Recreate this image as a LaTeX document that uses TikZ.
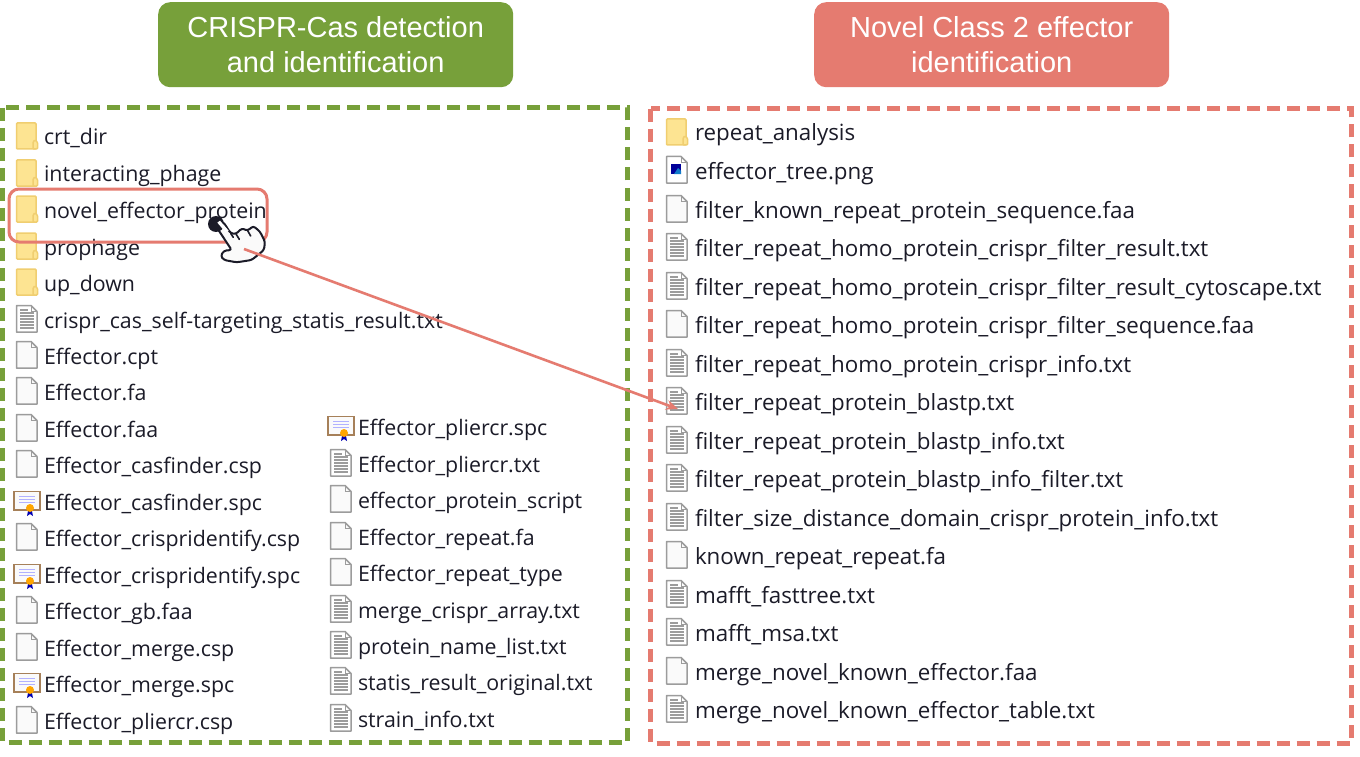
\documentclass[tikz,border=0pt]{standalone}
\usepackage{fontspec}
\setmainfont{Liberation Sans}
\newfontfamily\listfont{Open Sans}
\usetikzlibrary{arrows.meta}
\definecolor{grn}{HTML}{77A03A}
\definecolor{rdd}{HTML}{E57B70}
\definecolor{txt}{HTML}{1B1B28}
\definecolor{fold}{HTML}{FDE492}
\definecolor{foldl}{HTML}{F0CE70}
\definecolor{icg}{HTML}{9C9C9C}
\tikzset{
 title/.style={rounded corners=12pt,fill=#1,minimum width=355pt,minimum height=85pt,inner sep=0pt,anchor=north west,text=white,align=center,font=\fontsize{29}{35}\selectfont},
 panel/.style={draw=#1,line width=5pt,dash pattern=on 13pt off 7pt},
 labelL/.style={anchor=base west,inner sep=0pt,outer sep=0pt,text=txt,font=\listfont\fontsize{21.35}{24}\selectfont},
 labelR/.style={anchor=base west,inner sep=0pt,outer sep=0pt,text=txt,font=\listfont\fontsize{22.35}{24}\selectfont},
 folderic/.pic={
  \draw[foldl,line width=1.5pt,fill=fold,rounded corners=1pt] (-10.5,-14)--(9,-14)--(9,12)--(-10.5,12)--cycle;
  \draw[foldl,line width=1.5pt,fill=fold,rounded corners=1pt] (6,12)--(6,5)--(8,3)--(10.5,5)--(10.5,12)--cycle;
 },
 plainic/.pic={
  \draw[icg,line width=1.5pt,fill=white!95!icg,line join=round] (-10.5,-14.5)--(4,-14.5)--(10,-8.5)--(10,12)--(-10.5,12)--cycle;
  \draw[icg,line width=1pt] (4,-14.5)--(4,-8.5)--(10,-8.5);
 },
 textic/.pic={
  \draw[icg,line width=1.5pt,fill=white,line join=round] (-10.5,-14.5)--(4,-14.5)--(10,-8.5)--(10,12)--(-10.5,12)--cycle;
  \draw[icg,line width=1pt] (4,-14.5)--(4,-8.5)--(10,-8.5);
  \foreach \yy in {-7,-4,-1,2,5,8} \draw[icg,line width=1.2pt] (-7,\yy)--(7,\yy);
  \draw[icg,line width=1.2pt] (-7,-10)--(1,-10);
 },
 imageic/.pic={
  \draw[icg,line width=1.5pt,fill=white,line join=round] (-10.5,-14.5)--(4,-14.5)--(10,-8.5)--(10,12)--(-10.5,12)--cycle;
  \draw[icg,line width=1pt] (4,-14.5)--(4,-8.5)--(10,-8.5);
  \fill[blue!60!black] (-6,-7) rectangle (4,3);
  \fill[cyan!60!blue] (-3,3) -- (1,-3) -- (4,0) -- (4,3) -- cycle;
 },
 certic/.pic={
  \draw[brown!60!gray,line width=1.6pt,fill=white!96!gray] (-13,-10.5)--(13,-10.5)--(13,8)--(-13,8)--cycle;
  \foreach \yy in {-6,-3,0} \draw[blue!30,line width=.9pt] (-8,\yy)--(8,\yy);
  \fill[blue!70!black] (1,9)--(0,14)--(3,12)--(6,14)--(5,9)--cycle;
  \fill[orange!70!yellow] (3,6) circle (4);
 },
}
\newcommand{\fitemL}[6]{% name, icon x, text x, y, icon, text
 \pic at (#2,#4) {#5};
 \node[labelL] (#1) at (#3,#4+8) {#6};
}
\newcommand{\fitemR}[6]{%
 \pic at (#2,#4) {#5};
 \node[labelR] (#1) at (#3,#4+8) {#6};
}
\begin{document}
\begin{tikzpicture}[x=1pt,y=-1pt]
\useasboundingbox (0,0) rectangle (1360,757);
\fill[white] (0,0) rectangle (1360,757);
\node[title=grn] (t1) at (158,2) {CRISPR-Cas detection\\and identification};
\node[title=rdd] (t2) at (814,2) {Novel Class 2 effector\\identification};
\draw[panel=grn] (2.5,108) rectangle (627,742);
\draw[panel=rdd] (650.5,109) rectangle (1351,743);
% left column
\fitemL{l1}{27}{44}{137}{folderic}{crt\_dir}
\fitemL{l2}{27}{44}{174}{folderic}{interacting\_phage}
\fitemL{l3}{27}{44}{210}{folderic}{novel\_effector\_protein}
\fitemL{l4}{27}{44}{247}{folderic}{prophage}
\fitemL{l5}{27}{44}{283}{folderic}{up\_down}
\fitemL{l6}{27}{44}{320}{textic}{crispr\_cas\_self-targeting\_statis\_result.txt}
\fitemL{l7}{27}{44}{356}{plainic}{Effector.cpt}
\fitemL{l8}{27}{44}{392}{plainic}{Effector.fa}
\fitemL{l9}{27}{44}{429}{plainic}{Effector.faa}
\fitemL{l10}{27}{44}{465}{plainic}{Effector\_casfinder.csp}
\fitemL{l11}{27}{44}{502}{certic}{Effector\_casfinder.spc}
\fitemL{l12}{27}{44}{538}{plainic}{Effector\_crispridentify.csp}
\fitemL{l13}{27}{44}{575}{certic}{Effector\_crispridentify.spc}
\fitemL{l14}{27}{44}{611}{plainic}{Effector\_gb.faa}
\fitemL{l15}{27}{44}{648}{plainic}{Effector\_merge.csp}
\fitemL{l16}{27}{44}{684}{certic}{Effector\_merge.spc}
\fitemL{l17}{27}{44}{721}{plainic}{Effector\_pliercr.csp}
% second column
\fitemL{m1}{341}{358}{427}{certic}{Effector\_pliercr.spc}
\fitemL{m2}{341}{358}{464}{textic}{Effector\_pliercr.txt}
\fitemL{m3}{341}{358}{500}{plainic}{effector\_protein\_script}
\fitemL{m4}{341}{358}{537}{plainic}{Effector\_repeat.fa}
\fitemL{m5}{341}{358}{573}{plainic}{Effector\_repeat\_type}
\fitemL{m6}{341}{358}{610}{textic}{merge\_crispr\_array.txt}
\fitemL{m7}{341}{358}{646}{textic}{protein\_name\_list.txt}
\fitemL{m8}{341}{358}{682}{textic}{statis\_result\_original.txt}
\fitemL{m9}{341}{358}{719}{textic}{strain\_info.txt}
% right panel
\fitemR{r1}{677}{695}{133}{folderic}{repeat\_analysis}
\fitemR{r2}{677}{695}{171}{imageic}{effector\_tree.png}
\fitemR{r3}{677}{695}{210}{plainic}{filter\_known\_repeat\_protein\_sequence.faa}
\fitemR{r4}{677}{695}{248}{textic}{filter\_repeat\_homo\_protein\_crispr\_filter\_result.txt}
\fitemR{r5}{677}{695}{287}{textic}{filter\_repeat\_homo\_protein\_crispr\_filter\_result\_cytoscape.txt}
\fitemR{r6}{677}{695}{325}{plainic}{filter\_repeat\_homo\_protein\_crispr\_filter\_sequence.faa}
\fitemR{r7}{677}{695}{364}{textic}{filter\_repeat\_homo\_protein\_crispr\_info.txt}
\fitemR{r8}{677}{695}{402}{textic}{filter\_repeat\_protein\_blastp.txt}
\fitemR{r9}{677}{695}{441}{textic}{filter\_repeat\_protein\_blastp\_info.txt}
\fitemR{r10}{677}{695}{479}{textic}{filter\_repeat\_protein\_blastp\_info\_filter.txt}
\fitemR{r11}{677}{695}{518}{textic}{filter\_size\_distance\_domain\_crispr\_protein\_info.txt}
\fitemR{r12}{677}{695}{556}{plainic}{known\_repeat\_repeat.fa}
\fitemR{r13}{677}{695}{595}{textic}{mafft\_fasttree.txt}
\fitemR{r14}{677}{695}{633}{textic}{mafft\_msa.txt}
\fitemR{r15}{677}{695}{672}{plainic}{merge\_novel\_known\_effector.faa}
\fitemR{r16}{677}{695}{710}{textic}{merge\_novel\_known\_effector\_table.txt}
% highlight
\draw[rdd,line width=3pt,rounded corners=10pt] (9,189) rectangle (267,242);
% hand
\begin{scope}[shift={(200,200)},x=.3333pt,y=-.3333pt]
 \draw[fill=white!96!gray,draw=txt,line width=2pt,line join=round,rounded corners=2.5pt]
  (42,70)--(95,150)--(72,152)--(62,168)--(72,180)--(110,187)--(155,180)--(192,150)--(195,125)--(180,95)--(160,78)--(143,92)--(125,85)--(108,102)--(92,100)--(70,66)--cycle;
 \draw[txt,line width=1.6pt,line cap=round] (108,102)--(118,118) (143,92)--(152,108) (92,100)--(100,112);
 \fill[txt] (48,72) circle (24);
 \fill[white] (76,96)--(52,68)--(60,62)--(86,92)--cycle;
\end{scope}
\coordinate (handpt) at (244,249);
\coordinate (target) at (678,409);
\draw[rdd,line width=2.6pt,-{Stealth[length=12pt,width=10pt]}] (handpt) -- (target);
\end{tikzpicture}
\end{document}
